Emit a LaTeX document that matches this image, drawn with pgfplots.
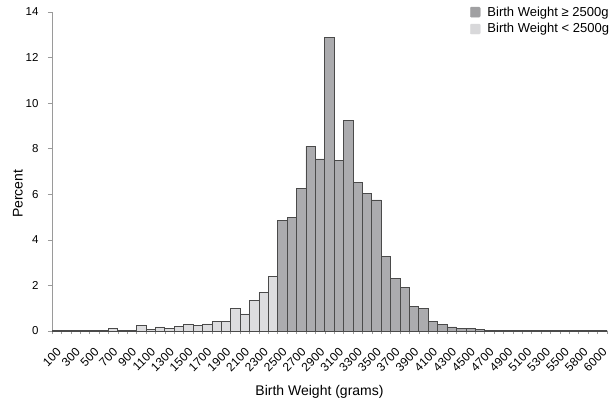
\documentclass[border=0pt]{standalone}
\usepackage{fontspec}
\setmainfont{Liberation Sans}
\usepackage{pgfplots}
\pgfplotsset{compat=1.18}
\definecolor{darkbar}{HTML}{ABABAE}
\definecolor{lightbar}{HTML}{DDDDDF}
\definecolor{legdark}{HTML}{A0A0A2}
\definecolor{leglight}{HTML}{D8D8DA}
\definecolor{edge}{HTML}{4A4A4A}
\definecolor{axisgray}{HTML}{9A9A9A}
\begin{document}
\begin{tikzpicture}
\begin{axis}[
  name=ax,
  scale only axis, width=555pt, height=319pt,
  xmin=-0.5, xmax=58.5, ymin=0, ymax=14,
  enlarge x limits=false, enlarge y limits=false,
  axis x line=bottom, axis y line=left,
  axis line style={-, axisgray, line width=0.8pt},
  ytick={0,2,...,14},
  xtick={0,2,...,58},
  xticklabels={100,300,500,700,900,1100,1300,1500,1700,1900,2100,2300,2500,2700,2900,3100,3300,3500,3700,3900,4100,4300,4500,4700,4900,5100,5300,5500,5800,6000},
  major x tick style={draw=none},
  minor xtick={-0.5,0.5,...,58.5},
  minor tick length=3pt, major tick length=4pt,
  tick align=outside,
  tick style={axisgray, line width=0.6pt},
  xticklabel style={rotate=45, anchor=north east, font=\fontsize{12}{12}\selectfont, inner sep=0pt, yshift=-8pt, xshift=-9pt},
  yticklabel style={font=\fontsize{11.5}{11.5}\selectfont, xshift=-6pt},
  /pgf/number format/assume math mode=true,
  xlabel={Birth Weight (grams)}, ylabel={Percent},
  label style={font=\fontsize{14}{14}\selectfont},
  xlabel style={at={(axis description cs:0.482,0)}, anchor=base, yshift=-64pt},
  ylabel style={at={(axis description cs:-0.0613,0.43)}, anchor=center},
  ybar, bar width=1, bar shift=0pt,
  legend style={at={(1.013,1.03)}, anchor=north east, draw=none, fill=none,
    font=\fontsize{13}{13}\selectfont, row sep=2pt, legend cell align=left},
]
\addlegendimage{legend image code/.code={\fill[legdark,rounded corners=1pt] (0pt,-5pt) rectangle (10pt,5pt); \path (15pt,0pt);}}
\addlegendentry{Birth Weight ≥ 2500g}
\addlegendimage{legend image code/.code={\fill[leglight,rounded corners=1pt] (0pt,-5pt) rectangle (10pt,5pt); \path (15pt,0pt);}}
\addlegendentry{Birth Weight < 2500g}
\addplot[fill=lightbar, draw=edge, line width=0.8pt, forget plot] table {
x y
0 0.03
1 0.03
2 0.03
3 0.03
4 0.04
5 0.04
6 0.10
7 0.04
8 0.04
9 0.23
10 0.08
11 0.18
12 0.12
13 0.19
14 0.28
15 0.23
16 0.31
17 0.41
18 0.41
19 1.00
20 0.75
21 1.35
22 1.70
23 2.40
};
\addplot[fill=darkbar, draw=edge, line width=0.8pt, forget plot] table {
x y
24 4.85
25 4.98
26 6.25
27 8.10
28 7.55
29 12.90
30 7.50
31 9.25
32 6.50
33 6.05
34 5.75
35 3.27
36 2.30
37 1.93
38 1.08
39 1.00
40 0.42
41 0.27
42 0.18
43 0.10
44 0.10
45 0.05
46 0.03
47 0.03
48 0.03
49 0.03
50 0.03
51 0.03
52 0.03
53 0.03
54 0.03
55 0.03
56 0.03
57 0.03
58 0.03
};
\end{axis}
\pgfresetboundingbox
\path[use as bounding box] ([xshift=-52pt,yshift=-71.3pt]ax.south west) rectangle ([xshift=7pt,yshift=12pt]ax.north east);
\end{tikzpicture}
\end{document}
